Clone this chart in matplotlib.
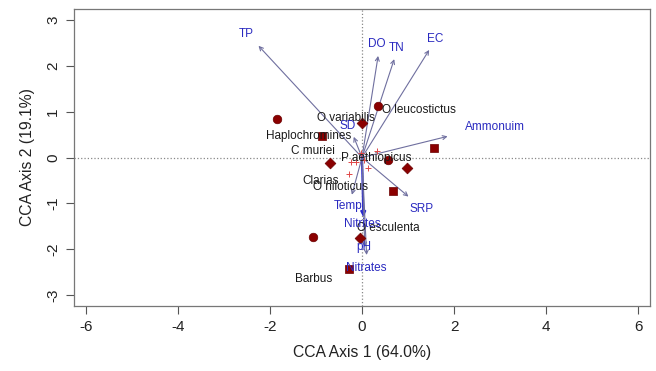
import matplotlib.pyplot as plt

plt.rcParams['font.family'] = ['Liberation Sans', 'DejaVu Sans']
plt.rcParams['axes.unicode_minus'] = False

# site scores (three site groups)
circle_x = [-1.84, 0.34, 0.56, -1.06]
circle_y = [0.84, 1.11, -0.05, -1.73]
square_x = [-0.86, 1.57, 0.67, -0.28]
square_y = [0.46, 0.20, -0.72, -2.43]
diamond_x = [0.01, -0.70, 0.97, -0.04]
diamond_y = [0.75, -0.12, -0.23, -1.74]

# species scores (small crosses) and labels
cross_x = [0.32, -0.24, -0.13, -0.02, 0.14, -0.28, 0.05]
cross_y = [0.15, -0.09, -0.10, 0.10, -0.22, -0.36, -0.05]
species = ["O variabilis", "O leucostictus", "Haplochromines", "C muriei",
           "P aethiopicus", "Clarias", "O niloticus", "O esculenta", "Barbus"]
species_x = [-0.34, 1.24, -1.15, -1.06, 0.30, -0.91, -0.47, 0.57, -1.05]
species_y = [0.86, 1.04, 0.47, 0.15, -0.01, -0.51, -0.64, -1.54, -2.64]

# environmental vectors: arrow tips and label positions
env = ["TP", "DO", "TN", "EC", "Ammonuim", "SD", "SRP", "Temp",
       "Nitrites", "pH", "Nitrates"]
env_x = [-2.25, 0.35, 0.70, 1.46, 1.86, -0.18, 1.01, -0.22, 0.03, 0.10, 0.06]
env_y = [2.43, 2.21, 2.14, 2.34, 0.46, 0.45, -0.85, -0.81, -1.30, -2.12, -1.95]
env_lx = [-2.51, 0.32, 0.75, 1.59, 2.89, -0.32, 1.30, -0.31, 0.01, 0.04, 0.10]
env_ly = [2.68, 2.47, 2.38, 2.57, 0.67, 0.69, -1.12, -1.06, -1.44, -1.95, -2.40]

fig = plt.figure(figsize=(6.56, 3.71), dpi=100)
ax = fig.add_axes([0.1128, 0.1752, 0.8781, 0.8005])

ax.axhline(0, color='#888888', linestyle=':', linewidth=0.9, zorder=1)
ax.axvline(0, color='#888888', linestyle=':', linewidth=0.9, zorder=1)

arrow_col = '#6f6f9f'
for name, x, y in zip(env, env_x, env_y):
    col = '#2a2ad0' if name == 'Nitrites' else arrow_col
    lw = 1.6 if name == 'Nitrites' else 0.8
    ax.annotate('', xy=(x, y), xytext=(0, 0),
                arrowprops=dict(arrowstyle='->', color=col, lw=lw,
                                shrinkA=0, shrinkB=0, mutation_scale=7),
                zorder=2)

ax.scatter(cross_x, cross_y, marker='+', s=14, color='#e04848',
           linewidths=0.7, zorder=3)

mk = dict(color='#8b0000', zorder=4, edgecolors='#6a0000', linewidths=0.5)
ax.scatter(circle_x, circle_y, marker='o', s=38, **mk)
ax.scatter(square_x, square_y, marker='s', s=32, **mk)
ax.scatter(diamond_x, diamond_y, marker='D', s=30, **mk)

for name, x, y in zip(species, species_x, species_y):
    ax.text(x, y, name, ha='center', va='center', fontsize=8.5,
            color='#1a1a1a', zorder=5)

for name, x, y in zip(env, env_lx, env_ly):
    ax.text(x, y, name, ha='center', va='center', fontsize=8.5,
            color='#2a2ac0', zorder=5)

ax.set_xlim(-6.26, 6.26)
ax.set_ylim(-3.23, 3.23)
ax.set_xticks([-6, -4, -2, 0, 2, 4, 6])
ax.set_yticks([-3, -2, -1, 0, 1, 2, 3])
for lab in ax.get_yticklabels():
    lab.set_rotation(90)
    lab.set_va('center')
ax.tick_params(direction='out', length=6, width=0.8, color='#555555',
               labelsize=11, labelcolor='#222222', pad=4)
for s in ax.spines.values():
    s.set_color('#777777')
    s.set_linewidth(0.9)

ax.set_xlabel("CCA Axis 1 (64.0%)", fontsize=11.3, color='#222222', labelpad=8)
ax.set_ylabel("CCA Axis 2 (19.1%)", fontsize=11.3, color='#222222', labelpad=8)

fig.savefig("out.png", dpi=100)
